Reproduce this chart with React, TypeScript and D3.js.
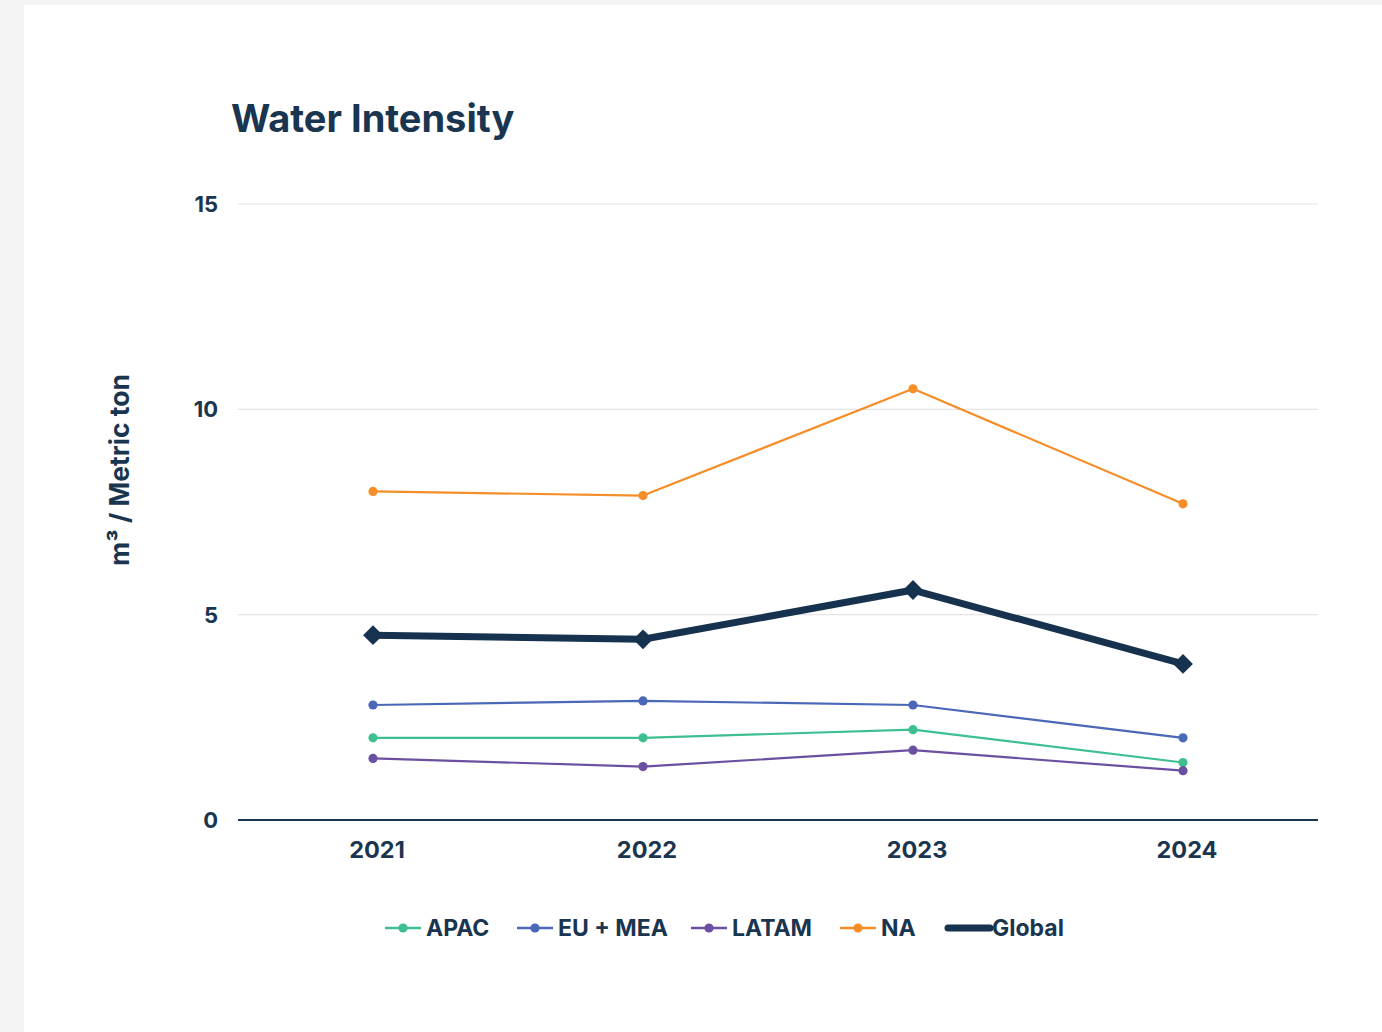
import React from "react";
import * as d3 from "d3";

const years = ["2021", "2022", "2023", "2024"];
const apac = [2.0, 2.0, 2.2, 1.4];
const euMea = [2.8, 2.9, 2.8, 2.0];
const latam = [1.5, 1.3, 1.7, 1.2];
const na = [8.0, 7.9, 10.5, 7.7];
const global = [4.5, 4.4, 5.6, 3.8];
const yTicks = [0, 5, 10, 15];

const seriesNames = ["APAC", "EU + MEA", "LATAM", "NA", "Global"];
const seriesColors = ["#3dbf8f", "#4a67b8", "#6b4fa0", "#f58d28", "#16324f"];

const W = 1382;
const H = 1032;
const TEXT = "#1a3550";
const FONT = "Inter, 'Noto Sans', sans-serif";

export default function App() {
  const x = d3.scaleBand<string>().domain(years).range([238, 1318]);
  const y = d3.scaleLinear().domain([0, 15]).range([820, 204]);
  const cx = (yr: string) => (x(yr) as number) + x.bandwidth() / 2;

  const series = [
    { name: "APAC", values: apac },
    { name: "EU + MEA", values: euMea },
    { name: "LATAM", values: latam },
    { name: "NA", values: na },
    { name: "Global", values: global },
  ];

  const line = d3
    .line<number>()
    .x((_, i) => cx(years[i]))
    .y((v) => y(v));

  const legendX = [385, 517, 691, 840, 948];
  const legendLen = [36, 36, 36, 36, 42];

  return (
    <svg
      width={W}
      height={H}
      style={{ position: "absolute", left: 0, top: 0, display: "block" }}
    >
      <rect x={0} y={0} width={W} height={H} fill="#f4f4f4" />
      <rect x={24} y={5} width={W - 24} height={H - 5} fill="#ffffff" />

      <text
        x={231}
        y={132}
        fontFamily={FONT}
        fontWeight={700}
        fontSize={38}
        fill={TEXT}
      >
        Water Intensity
      </text>

      {yTicks.map((t) => (
        <g key={t}>
          {t !== 0 && (
            <line
              x1={238}
              x2={1318}
              y1={y(t)}
              y2={y(t)}
              stroke="#e4e4e4"
              strokeWidth={1.2}
            />
          )}
          <text
            x={218}
            y={y(t)}
            dy="0.36em"
            textAnchor="end"
            fontFamily={FONT}
            fontWeight={700}
            fontSize={22}
            fill={TEXT}
          >
            {t}
          </text>
        </g>
      ))}

      <line x1={238} x2={1318} y1={820} y2={820} stroke={TEXT} strokeWidth={2} />

      {years.map((yr) => (
        <text
          key={yr}
          x={cx(yr) + 4}
          y={858}
          textAnchor="middle"
          fontFamily={FONT}
          fontWeight={700}
          fontSize={23.5}
          fill={TEXT}
        >
          {yr}
        </text>
      ))}

      <text
        transform={`translate(129, 470) rotate(-90)`}
        textAnchor="middle"
        fontFamily={FONT}
        fontWeight={700}
        fontSize={26.5}
        fill={TEXT}
      >
        m³ / Metric ton
      </text>

      {series.map((s, si) => {
        const isGlobal = s.name === "Global";
        const color = seriesColors[si];
        return (
          <g key={s.name}>
            <path
              d={line(s.values) || ""}
              fill="none"
              stroke={color}
              strokeWidth={isGlobal ? 7 : 2.2}
              strokeLinejoin="round"
            />
            {s.values.map((v, i) =>
              isGlobal ? (
                <path
                  key={i}
                  d={d3.symbol(d3.symbolDiamond2, 250)() || ""}
                  transform={`translate(${cx(years[i])},${y(v)})`}
                  fill={color}
                />
              ) : (
                <circle key={i} cx={cx(years[i])} cy={y(v)} r={4.6} fill={color} />
              )
            )}
          </g>
        );
      })}

      {seriesNames.map((n, i) => {
        const lx = legendX[i];
        const color = seriesColors[i];
        const isGlobal = n === "Global";
        const len = legendLen[i];
        return (
          <g key={n}>
            <line
              x1={lx}
              x2={lx + len}
              y1={928}
              y2={928}
              stroke={color}
              strokeWidth={isGlobal ? 7 : 2.5}
              strokeLinecap={isGlobal ? "round" : "butt"}
            />
            {isGlobal ? (
              <path
                d={d3.symbol(d3.symbolDiamond2, 20)() || ""}
                transform={`translate(${lx + 21},928)`}
                fill={color}
              />
            ) : (
              <circle cx={lx + len / 2} cy={928} r={4.6} fill={color} />
            )}
            <text
              x={lx + len + 5 - (isGlobal ? 3 : 0)}
              y={928}
              dy="0.36em"
              fontFamily={FONT}
              fontWeight={700}
              fontSize={23}
              fill={TEXT}
            >
              {n}
            </text>
          </g>
        );
      })}
    </svg>
  );
}
